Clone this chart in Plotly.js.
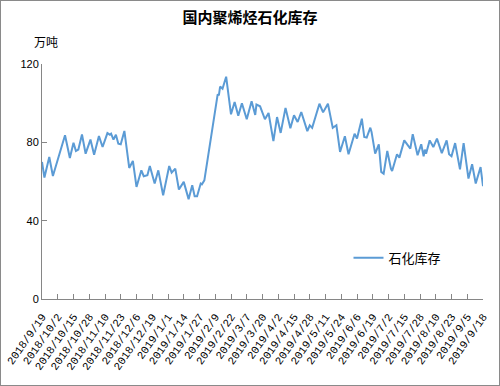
<!DOCTYPE html>
<html>
<head>
<meta charset="utf-8">
<script src="https://cdn.plot.ly/plotly-3.0.1.min.js"></script>
<style>
html,body{margin:0;padding:0;background:#fff;}
#wrap{position:relative;width:500px;height:386px;}
#chart{width:500px;height:386px;}
#frame{position:absolute;left:0;top:0;width:500px;height:386px;box-sizing:border-box;border:1px solid #8a8a8a;pointer-events:none;}
</style>
</head>
<body>
<div id="wrap"><div id="chart"></div><div id="frame"></div></div>
<script>
var seriesName = "石化库存";
var dates = [
"2018-09-19","2018-09-21","2018-09-25","2018-09-28","2018-10-08","2018-10-12","2018-10-15","2018-10-17","2018-10-19","2018-10-22",
"2018-10-25","2018-10-29","2018-11-01","2018-11-05","2018-11-08","2018-11-12","2018-11-14","2018-11-15","2018-11-17","2018-11-19",
"2018-11-21","2018-11-23","2018-11-26","2018-11-30","2018-12-03","2018-12-06","2018-12-10","2018-12-12","2018-12-15","2018-12-17",
"2018-12-21","2018-12-24","2018-12-28","2019-01-02","2019-01-04","2019-01-07","2019-01-10","2019-01-14","2019-01-18","2019-01-21",
"2019-01-23","2019-01-25","2019-01-28","2019-01-29","2019-01-31","2019-02-11","2019-02-12","2019-02-13","2019-02-15","2019-02-18",
"2019-02-22","2019-02-25","2019-02-28","2019-03-03","2019-03-07","2019-03-11","2019-03-14","2019-03-15","2019-03-18","2019-03-22",
"2019-03-25","2019-03-29","2019-04-01","2019-04-04","2019-04-08","2019-04-12","2019-04-15","2019-04-18","2019-04-21","2019-04-26",
"2019-04-28","2019-04-30","2019-05-06","2019-05-09","2019-05-13","2019-05-17","2019-05-20","2019-05-23","2019-05-27","2019-05-30",
"2019-06-04","2019-06-06","2019-06-10","2019-06-12","2019-06-14","2019-06-17","2019-06-18","2019-06-21","2019-06-24","2019-06-26",
"2019-06-28","2019-07-01","2019-07-04","2019-07-05","2019-07-09","2019-07-11","2019-07-15","2019-07-20","2019-07-22","2019-07-26",
"2019-07-29","2019-07-31","2019-08-01","2019-08-02","2019-08-05","2019-08-08","2019-08-11","2019-08-15","2019-08-19","2019-08-21",
"2019-08-23","2019-08-26","2019-08-30","2019-09-02","2019-09-06","2019-09-09","2019-09-12","2019-09-16","2019-09-18"
];
var stock = [
70.0,62.0,72.5,62.8,83.6,72.0,79.8,75.6,76.3,84.0,
74.2,81.4,73.7,83.2,77.6,84.7,83.9,84.4,81.4,83.9,
79.3,79.0,85.8,66.9,70.5,57.2,65.7,62.7,63.2,67.9,
59.0,65.7,53.0,67.9,64.5,66.6,55.9,59.8,51.0,58.1,
52.5,52.5,59.0,58.6,60.6,104.5,104.0,108.5,107.4,113.5,
94.3,100.6,93.6,100.0,91.8,101.0,94.0,99.3,98.4,91.8,
95.0,80.6,92.9,84.8,97.6,87.2,93.8,90.4,95.5,85.7,
88.7,87.4,99.7,95.3,99.7,87.4,88.7,75.1,83.1,73.9,
84.4,81.9,92.1,82.7,82.4,87.5,85.3,74.2,79.0,64.9,
64.0,75.6,66.6,65.4,73.9,72.2,81.0,76.8,84.2,73.4,
79.0,72.9,76.3,74.2,81.0,77.6,81.9,74.5,81.0,73.9,
72.9,79.6,66.2,79.6,61.5,68.8,59.0,67.4,57.6
];
var tickLabels = [
"2018/9/19","2018/10/2","2018/10/15","2018/10/28","2018/11/10","2018/11/23","2018/12/6","2018/12/19",
"2019/1/1","2019/1/14","2019/1/27","2019/2/9","2019/2/22","2019/3/7","2019/3/20","2019/4/2","2019/4/15",
"2019/4/28","2019/5/11","2019/5/24","2019/6/6","2019/6/19","2019/7/2","2019/7/15","2019/7/28","2019/8/10",
"2019/8/23","2019/9/5","2019/9/18"
];
var yTicks = [0, 40, 80, 120];

function toIso(s){
  var p = s.split("/");
  return p[0] + "-" + ("0"+p[1]).slice(-2) + "-" + ("0"+p[2]).slice(-2);
}
var tickVals = tickLabels.map(toIso);

var axisColor = "#868686";
var trace = {
  x: dates, y: stock, type: "scatter", mode: "lines", name: seriesName,
  line: {color: "#5B9BD5", width: 2}
};
var layout = {
  width: 500, height: 386,
  margin: {l: 42, r: 17, t: 64, b: 87, pad: 0},
  paper_bgcolor: "#fff", plot_bgcolor: "#fff",
  font: {family: "Liberation Sans, Noto Sans CJK SC, sans-serif", size: 11, color: "#000"},
  title: {text: "<b>国内聚烯烃石化库存</b>", x: 0.5, xanchor: "center", y: 0.953, yanchor: "middle",
          font: {family: "Noto Sans CJK SC, sans-serif", size: 15, color: "#000"}},
  xaxis: {
    type: "date", range: [tickVals[0], tickVals[tickVals.length-1]],
    tickmode: "array", tickvals: tickVals, ticktext: tickLabels, tickangle: -55,
    showline: true, linecolor: axisColor, linewidth: 1,
    ticks: "inside", ticklen: 5, tickcolor: axisColor,
    showgrid: false, zeroline: false, ticklabelstandoff: 6,
    tickfont: {family: "Liberation Mono, DejaVu Sans Mono, monospace", size: 11, color: "#000"}
  },
  yaxis: {
    range: [0, 120], tickmode: "array", tickvals: yTicks,
    showline: true, linecolor: axisColor, linewidth: 1,
    ticks: "inside", ticklen: 5, tickcolor: axisColor,
    showgrid: false, zeroline: false,
    tickfont: {size: 11, color: "#000"}
  },
  legend: {x: 0.695, y: 0.175, xanchor: "left", yanchor: "middle", bgcolor: "rgba(0,0,0,0)",
           font: {family: "Noto Sans CJK SC, sans-serif", size: 13, color: "#000"}},
  showlegend: true,
  annotations: [{text: "万吨", xref: "paper", yref: "paper", x: 0.008, y: 1.094,
                 xanchor: "center", yanchor: "middle", showarrow: false,
                 font: {family: "Noto Sans CJK SC, sans-serif", size: 12, color: "#000"}}]
};
Plotly.newPlot("chart", [trace], layout, {displayModeBar: false, staticPlot: true});
</script>
</body>
</html>
